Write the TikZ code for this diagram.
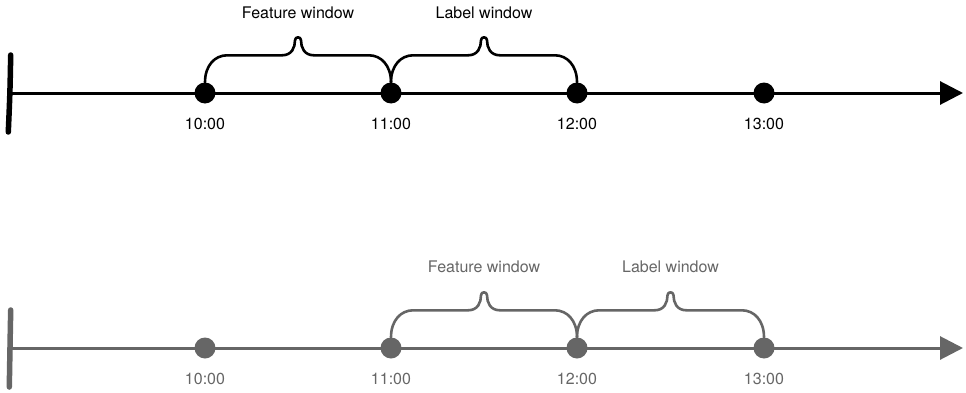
\documentclass[tikz,border=0pt]{standalone}
\usepackage{fontspec}
\setmainfont{TeX Gyre Heros}
\usepackage{xcolor}
\definecolor{fadegray}{HTML}{666666}
\usepackage{tikz}
\usetikzlibrary{arrows.meta, positioning, calc}

\tikzset{
  timeaxis/.style={line width=3pt, -{Triangle[length=23pt,width=23pt]}},
  startbar/.style={line width=5.5pt, line cap=round},
  dot/.style={circle, fill, minimum size=21pt, inner sep=0pt},
  timelabel/.style={inner sep=0pt, font=\fontsize{16}{19}\selectfont},
  winlabel/.style={inner sep=0pt, font=\fontsize{16}{19}\selectfont},
  brace/.style={line width=2.6pt, line cap=round, line join=round}
}

% curly brace spanning two dots, with its tip half way
\newcommand{\winbrace}[2]{%
  \draw[brace] let \p1=(#1.north), \p2=(#2.north), \n1={0.5*(\x1+\x2)} in
    (\p1) .. controls +(0,17) and +(-12,0) .. (\x1+22,\y1+27)
    -- (\n1-16,\y1+27) .. controls +(10,0) and +(0,-7) .. (\n1-3,\y1+42)
    .. controls +(0,4) and +(0,4) .. (\n1+3,\y1+42)
    .. controls +(0,-7) and +(-10,0) .. (\n1+16,\y1+27)
    -- (\x2-22,\y2+27) .. controls +(12,0) and +(0,17) .. (\p2);}

\begin{document}
\begin{tikzpicture}[x=1pt, y=1pt]
  \useasboundingbox (0,0) rectangle (966,392);

  % first timeline
  \coordinate (ustart) at (12,299);
  \coordinate (uend) at (963,299);
  \draw[startbar] (10.7,337) .. controls (10,300) .. (8.3,260);
  \draw[timeaxis] (ustart) -- (uend);
  \foreach \h/\x in {10/205, 11/391, 12/577, 13/764} {
    \node[dot] (u\h) at (\x,299) {};
    \node[timelabel, below=14pt of u\h] {\h:00};
  }
  \winbrace{u10}{u11}
  \winbrace{u11}{u12}
  \node[winlabel] (ufeat) at ($(u10)!.5!(u11)+(0,80)$) {Feature window};
  \node[winlabel] (ulab) at ($(u11)!.5!(u12)+(0,80)$) {Label window};

  % shifted timeline, one hour later
  \begin{scope}[fadegray]
    \coordinate (lstart) at (12,44);
    \coordinate (lend) at (963,44);
    \draw[startbar] (10.7,82) .. controls (10,45) .. (9.3,5);
    \draw[timeaxis] (lstart) -- (lend);
    \foreach \h/\x in {10/205, 11/391, 12/577, 13/764} {
      \node[dot] (l\h) at (\x,44) {};
      \node[timelabel, below=14pt of l\h] {\h:00};
    }
    \winbrace{l11}{l12}
    \winbrace{l12}{l13}
    \node[winlabel] (lfeat) at ($(l11)!.5!(l12)+(0,81)$) {Feature window};
    \node[winlabel] (llab) at ($(l12)!.5!(l13)+(0,81)$) {Label window};
  \end{scope}
\end{tikzpicture}
\end{document}
